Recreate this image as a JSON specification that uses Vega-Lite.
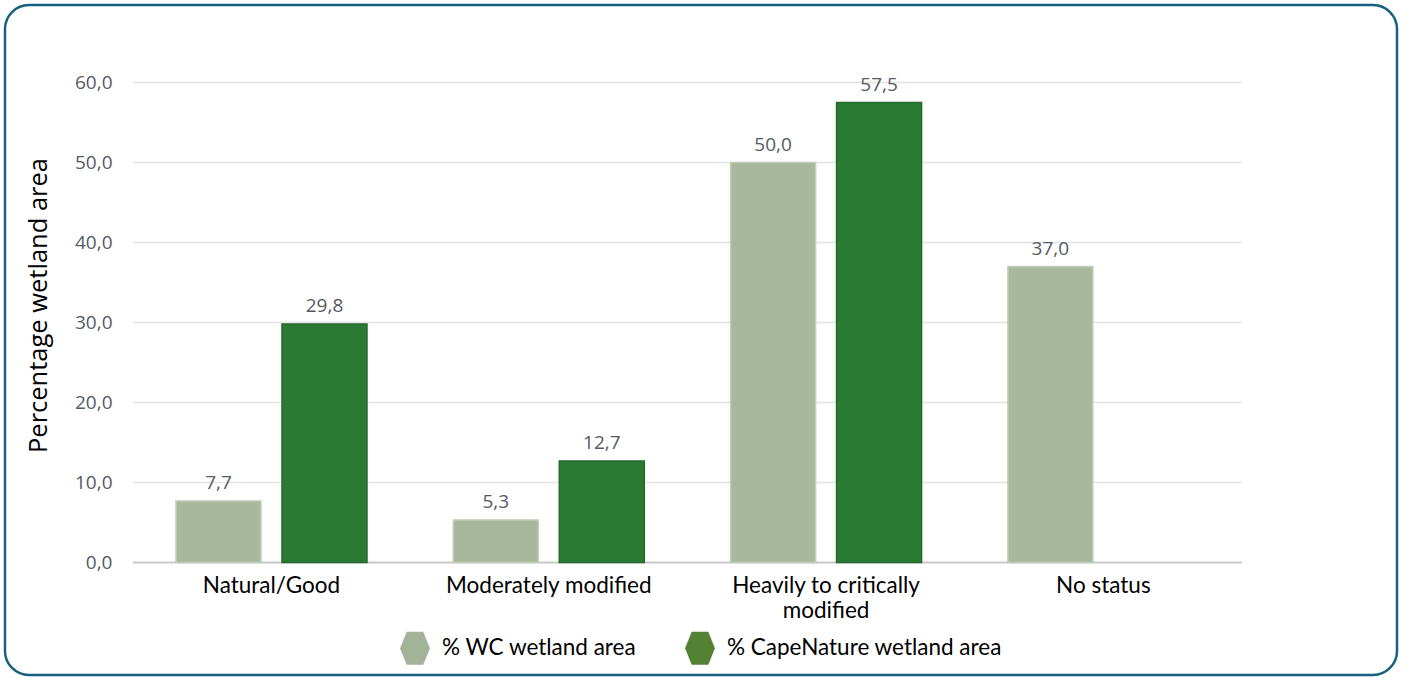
{
  "$schema": "https://vega.github.io/schema/vega-lite/v6.json",
  "width": 1392,
  "height": 670,
  "autosize": {"type": "none"},
  "padding": {"left": 5, "top": 5, "right": 6, "bottom": 3},
  "background": "white",
  "config": {
    "locale": {"number": {"decimal": ",", "thousands": " ", "grouping": [3], "currency": ["", ""]}},
    "view": {"stroke": "#17607f", "strokeWidth": 2.5, "cornerRadius": 24}
  },
  "datasets": {
    "shares": [
      {"status": "Natural/Good", "series": "% WC wetland area", "pct": 7.7},
      {"status": "Natural/Good", "series": "% CapeNature wetland area", "pct": 29.8},
      {"status": "Moderately modified", "series": "% WC wetland area", "pct": 5.3},
      {"status": "Moderately modified", "series": "% CapeNature wetland area", "pct": 12.7},
      {"status": "Heavily to critically modified", "series": "% WC wetland area", "pct": 50.0},
      {"status": "Heavily to critically modified", "series": "% CapeNature wetland area", "pct": 57.5},
      {"status": "No status", "series": "% WC wetland area", "pct": 37.0}
    ],
    "gridlines": [
      {"pct": 0}, {"pct": 10}, {"pct": 20}, {"pct": 30}, {"pct": 40}, {"pct": 50}, {"pct": 60}
    ]
  },
  "encoding": {
    "y": {
      "field": "pct",
      "type": "quantitative",
      "title": "Percentage wetland area",
      "scale": {"domain": [-14.0625, 69.6875], "nice": false, "zero": false},
      "axis": {
        "values": [0, 10, 20, 30, 40, 50, 60],
        "format": ".1f",
        "grid": false,
        "domain": false,
        "ticks": false,
        "offset": -128,
        "labelPadding": 21,
        "labelFont": "Open Sans",
        "labelFontSize": 19,
        "labelColor": "#555a63",
        "titleFont": "Open Sans",
        "titleFontSize": 25.5,
        "titleFontWeight": "normal",
        "titleColor": "black",
        "titleAngle": -90,
        "titleX": -95,
        "titleY": 300,
        "titleAlign": "center",
        "titleBaseline": "middle"
      }
    }
  },
  "layer": [
    {
      "data": {"name": "gridlines"},
      "mark": {"type": "rule"},
      "encoding": {
        "x": {"datum": "Natural/Good", "bandPosition": 0},
        "x2": {"datum": "No status", "bandPosition": 1},
        "color": {"condition": {"test": "datum.pct === 0", "value": "#c8c8c8"}, "value": "#e3e3e3"},
        "strokeWidth": {"condition": {"test": "datum.pct === 0", "value": 2}, "value": 1.6}
      }
    },
    {
      "data": {"name": "shares"},
      "encoding": {
        "x": {
          "field": "status",
          "type": "nominal",
          "title": null,
          "scale": {
            "domain": ["Natural/Good", "Moderately modified", "Heavily to critically modified", "No status"],
            "paddingInner": 0,
            "paddingOuter": 0.51,
            "align": 0.452
          },
          "axis": {
            "orient": "bottom",
            "offset": -112,
            "domain": false,
            "ticks": false,
            "grid": false,
            "labelAngle": 0,
            "labelAlign": "center",
            "labelBaseline": "alphabetic",
            "labelPadding": 29,
            "labelFont": "Lato",
            "labelFontSize": 22.5,
            "labelColor": "black",
            "labelLineHeight": 25,
            "labelLimit": 400,
            "labelExpr": "datum.value == 'Heavily to critically modified' ? ['Heavily to critically', 'modified'] : datum.value"
          }
        },
        "xOffset": {
          "field": "series",
          "type": "nominal",
          "scale": {
            "domain": ["% WC wetland area", "% CapeNature wetland area"],
            "paddingInner": 0.198,
            "paddingOuter": 0.407
          }
        }
      },
      "layer": [
        {
          "mark": {"type": "bar", "strokeWidth": 1.5},
          "encoding": {
            "y2": {"datum": 0},
            "fill": {
              "field": "series",
              "type": "nominal",
              "scale": {"range": ["#2b7a34", "#a9b89c"]},
              "legend": null
            },
            "stroke": {
              "field": "series",
              "type": "nominal",
              "scale": {"range": ["#246a2c", "#c4cdb9"]},
              "legend": null
            }
          }
        },
        {
          "mark": {"type": "point", "filled": true, "size": 0},
          "encoding": {
            "color": {
              "field": "series",
              "type": "nominal",
              "scale": {
                "domain": ["% WC wetland area", "% CapeNature wetland area"],
                "range": ["#a2b399", "#548235"]
              },
              "legend": {
                "title": null,
                "orient": "none",
                "legendX": 393,
                "legendY": 626,
                "direction": "horizontal",
                "symbolType": "M-0.9,0L-0.5,-1L0.5,-1L0.9,0L0.5,1L-0.5,1Z",
                "symbolSize": 1100,
                "symbolStrokeWidth": 0,
                "symbolOpacity": 1,
                "labelFont": "Lato",
                "labelFontSize": 22.5,
                "labelColor": "black",
                "labelOffset": 10,
                "columnPadding": 46,
                "labelLimit": 400
              }
            }
          }
        },
        {
          "mark": {
            "type": "text",
            "baseline": "alphabetic",
            "dy": -12,
            "font": "Open Sans",
            "fontSize": 19,
            "color": "#555a63"
          },
          "encoding": {
            "text": {"field": "pct", "type": "quantitative", "format": ".1f"}
          }
        }
      ]
    }
  ]
}
